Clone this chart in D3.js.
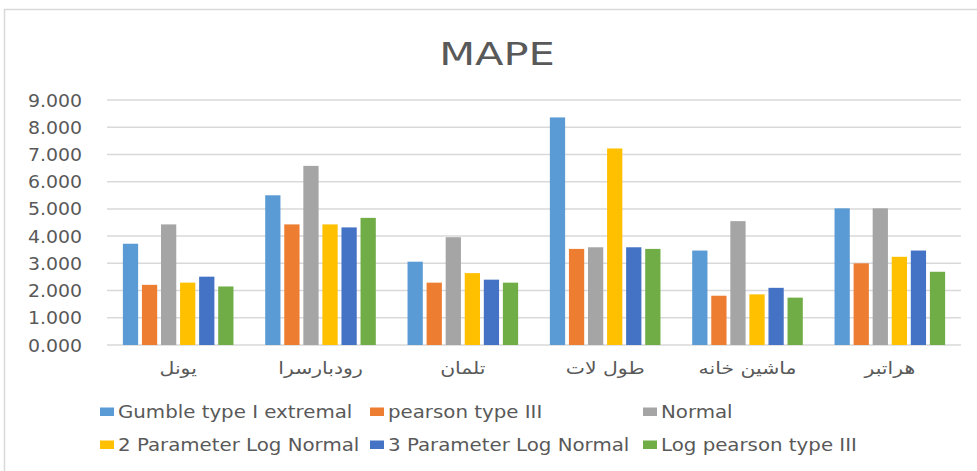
<!DOCTYPE html>
<html>
<head>
<meta charset="utf-8">
<script src="https://cdn.jsdelivr.net/npm/d3@7"></script>
<style>
    body { margin: 0; background: #fff; }
    svg { display: block; }
    text { font-family: "DejaVu Sans", sans-serif; fill: #595959; }
</style>
</head>
<body>
<svg id="chart" width="977" height="471"></svg>
<script>
'use strict';

// stations (x categories)
var stations = ['یونل', 'رودبارسرا', 'تلمان', 'طول لات', 'ماشین خانه', 'هراتبر'];

// distributions (series)
var seriesNames = [
    'Gumble type I extremal',
    'pearson type III',
    'Normal',
    '2 Parameter Log Normal',
    '3 Parameter Log Normal',
    'Log pearson type III'
];

// MAPE per series, one value per station
var gumble      = [3.72, 5.50, 3.06, 8.36, 3.47, 5.02];
var pearson     = [2.21, 4.43, 2.29, 3.53, 1.81, 3.00];
var normal      = [4.43, 6.58, 3.96, 3.59, 4.55, 5.02];
var logNormal2  = [2.29, 4.43, 2.64, 7.22, 1.86, 3.24];
var logNormal3  = [2.51, 4.32, 2.40, 3.59, 2.10, 3.47];
var logPearson  = [2.15, 4.67, 2.29, 3.53, 1.74, 2.69];

var yTicks = [0, 1, 2, 3, 4, 5, 6, 7, 8, 9];

var colors = ['#5B9BD5', '#ED7D31', '#A5A5A5', '#FFC000', '#4472C4', '#70AD47'];

var allValues = [gumble, pearson, normal, logNormal2, logNormal3, logPearson];

var margin = { top: 100, right: 16, bottom: 126, left: 107 };

var svg = d3.select('#chart');
var width = +svg.attr('width') - margin.left - margin.right;
var height = +svg.attr('height') - margin.top - margin.bottom;

// chart frame
svg.append('rect')
    .attr('x', 4.5)
    .attr('y', 9.5)
    .attr('width', 1000)
    .attr('height', 1000)
    .attr('fill', 'none')
    .attr('stroke', '#d9d9d9')
    .attr('stroke-width', 1.5);

// title
svg.append('text')
    .attr('transform', 'translate(497,65) scale(1.3,1)')
    .attr('text-anchor', 'middle')
    .style('font-size', '32px')
    .text('MAPE');

var x0 = d3.scaleBand()
    .domain(stations)
    .range([0, width])
    .paddingInner(0.223)
    .paddingOuter(0.1115);

var x1 = d3.scaleBand()
    .domain(d3.range(seriesNames.length))
    .range([0, x0.bandwidth()])
    .paddingInner(0.2);

var y = d3.scaleLinear()
    .domain([0, 9])
    .range([height, 0]);

var g = svg.append('g')
    .attr('transform', 'translate(' + margin.left + ',' + margin.top + ')');

// gridlines
g.selectAll('.grid')
    .data(yTicks)
    .enter().append('line')
    .attr('class', 'grid')
    .attr('x1', 0)
    .attr('x2', width)
    .attr('y1', function(d) { return y(d); })
    .attr('y2', function(d) { return y(d); })
    .attr('stroke', '#d9d9d9')
    .attr('stroke-width', 1.5);

// y labels
g.selectAll('.ylabel')
    .data(yTicks)
    .enter().append('text')
    .attr('class', 'ylabel')
    .attr('transform', function(d) { return 'translate(-25,' + (y(d) + 6.5) + ') scale(1.08,1)'; })
    .attr('text-anchor', 'end')
    .style('font-size', '17.5px')
    .text(function(d) { return d3.format('.3f')(d); });

// bars
var group = g.selectAll('.station')
    .data(stations)
    .enter().append('g')
    .attr('class', 'station')
    .attr('transform', function(d) { return 'translate(' + x0(d) + ',0)'; });

group.selectAll('rect')
    .data(function(d, i) {
        return allValues.map(function(vals, s) { return { s: s, value: vals[i] }; });
    })
    .enter().append('rect')
    .attr('x', function(d) { return x1(d.s); })
    .attr('width', x1.bandwidth())
    .attr('y', function(d) { return y(d.value); })
    .attr('height', function(d) { return y(0) - y(d.value); })
    .attr('fill', function(d) { return colors[d.s]; });

// category labels
g.selectAll('.xlabel')
    .data(stations)
    .enter().append('text')
    .attr('class', 'xlabel')
    .attr('transform', function(d) {
        return 'translate(' + (x0(d) + x0.bandwidth() / 2) + ',' + (height + 29) + ') scale(1.2,1)';
    })
    .attr('text-anchor', 'middle')
    .attr('direction', 'rtl')
    .style('font-size', '17px')
    .text(function(d) { return d; });

// legend
var legendCols = [100, 370, 643];
var legendRows = [418, 451];

var legend = svg.selectAll('.legend')
    .data(seriesNames)
    .enter().append('g')
    .attr('class', 'legend')
    .attr('transform', function(d, i) {
        return 'translate(' + legendCols[i % 3] + ',' + legendRows[Math.floor(i / 3)] + ')';
    });

legend.append('rect')
    .attr('x', 0)
    .attr('y', -10.5)
    .attr('width', 14)
    .attr('height', 8.5)
    .attr('fill', function(d, i) { return colors[i]; });

legend.append('text')
    .attr('transform', 'translate(18,0) scale(1.1,1)')
    .style('font-size', '18px')
    .text(function(d) { return d; });
</script>
</body>
</html>
